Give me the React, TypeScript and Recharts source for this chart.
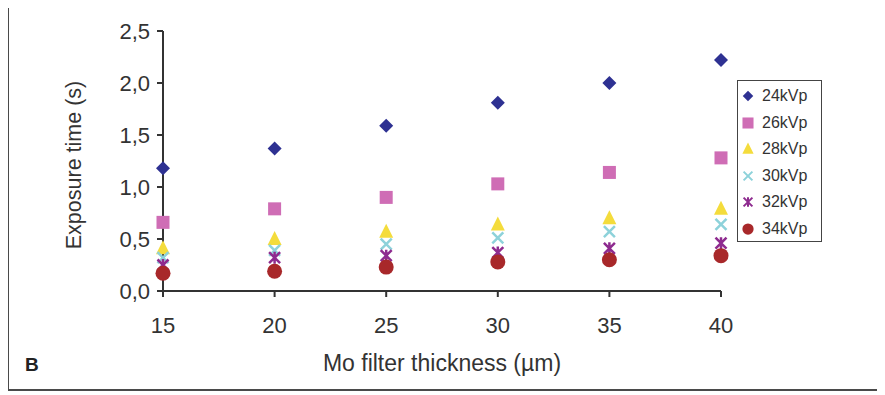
import React from "react";
import { Legend, Scatter, ScatterChart, XAxis, YAxis } from "recharts";

// Mo filter thickness (µm)
const thickness = [15, 20, 25, 30, 35, 40];

// Exposure time (s) per tube voltage
const kv24 = [1.18, 1.37, 1.59, 1.81, 2.0, 2.22];
const kv26 = [0.66, 0.79, 0.9, 1.03, 1.14, 1.28];
const kv28 = [0.41, 0.5, 0.57, 0.64, 0.7, 0.79];
const kv30 = [0.32, 0.39, 0.45, 0.51, 0.57, 0.64];
const kv32 = [0.25, 0.32, 0.34, 0.37, 0.41, 0.46];
const kv34 = [0.17, 0.19, 0.23, 0.28, 0.3, 0.34];

const xTicks = [15, 20, 25, 30, 35, 40];
const yTicks = [0, 0.5, 1, 1.5, 2, 2.5];

const FONT = '"Liberation Sans", Arial, Helvetica, sans-serif';

const toPoints = (vals: number[]) =>
  thickness.map((t, i) => ({ x: t, y: vals[i] }));

// marker shapes (Excel style)
const Diamond = ({ cx, cy, fill }: any) => (
  <polygon
    points={`${cx},${cy - 7} ${cx + 7},${cy} ${cx},${cy + 7} ${cx - 7},${cy}`}
    fill={fill}
  />
);
const Square = ({ cx, cy, fill }: any) => (
  <rect x={cx - 6.5} y={cy - 6.5} width={13} height={13} fill={fill} />
);
const Triangle = ({ cx, cy, fill }: any) => (
  <polygon
    points={`${cx},${cy - 8} ${cx + 7},${cy + 6} ${cx - 7},${cy + 6}`}
    fill={fill}
  />
);
const XMark = ({ cx, cy, fill }: any) => (
  <path
    d={`M${cx - 5.5},${cy - 5.5}L${cx + 5.5},${cy + 5.5}M${cx - 5.5},${cy + 5.5}L${cx + 5.5},${cy - 5.5}`}
    stroke={fill}
    strokeWidth={2.5}
  />
);
const Star = ({ cx, cy, fill }: any) => (
  <path
    d={`M${cx - 5.5},${cy - 5.5}L${cx + 5.5},${cy + 5.5}M${cx - 5.5},${cy + 5.5}L${cx + 5.5},${cy - 5.5}M${cx},${cy - 6}L${cx},${cy + 6}`}
    stroke={fill}
    strokeWidth={2.5}
  />
);
const Dot = ({ cx, cy, fill }: any) => (
  <circle cx={cx} cy={cy} r={7.5} fill={fill} />
);

const series = [
  { name: "24kVp", data: kv24, color: "#2E3192", shape: Diamond },
  { name: "26kVp", data: kv26, color: "#CF6DB5", shape: Square },
  { name: "28kVp", data: kv28, color: "#F4DC3C", shape: Triangle },
  { name: "30kVp", data: kv30, color: "#8DD2DA", shape: XMark },
  { name: "32kVp", data: kv32, color: "#8E2B8F", shape: Star },
  { name: "34kVp", data: kv34, color: "#A8282A", shape: Dot },
];

const legendSizes: Record<string, number> = {
  "24kVp": 0.75,
  "26kVp": 0.85,
  "28kVp": 0.8,
  "30kVp": 0.8,
  "32kVp": 0.8,
  "34kVp": 0.75,
};

const renderLegend = () => (
  <div
    style={{
      width: 85,
      height: 162,
      boxSizing: "border-box",
      border: "1.5px solid #444",
      background: "#fff",
      paddingTop: 2,
      fontFamily: FONT,
    }}
  >
    {series.map((s) => {
      const Shape = s.shape;
      const k = legendSizes[s.name];
      return (
        <div
          key={s.name}
          style={{ height: 26.5, display: "flex", alignItems: "center" }}
        >
          <svg width={24} height={20} style={{ flex: "none" }}>
            <g transform={`translate(10 10) scale(${k})`}>
              <Shape cx={0} cy={0} fill={s.color} />
            </g>
          </svg>
          <span style={{ fontSize: 16, color: "#333" }}>{s.name}</span>
        </div>
      );
    })}
  </div>
);

const renderYLabel = () => (
  <text
    x={65}
    y={161}
    transform="rotate(-90 65 161)"
    textAnchor="middle"
    dominantBaseline="central"
    fontSize={21.5}
    fontFamily={FONT}
    fill="#333"
  >
    Exposure time (s)
  </text>
);

const renderXLabel = () => (
  <text
    x={433}
    y={359}
    textAnchor="middle"
    dominantBaseline="central"
    fontSize={23}
    fontFamily={FONT}
    fill="#333"
  >
    Mo filter thickness (µm)
  </text>
);

export default function App() {
  return (
    <div
      style={{
        position: "relative",
        width: 875,
        height: 389,
        boxSizing: "border-box",
        border: "2px solid #4a4a4a",
        margin: "-6px 0 0 -1px",
        background: "#fff",
        fontFamily: FONT,
      }}
    >
      <ScatterChart
        width={871}
        height={385}
        margin={{ top: 27, right: 159, bottom: 0, left: 0 }}
      >
        <XAxis
          type="number"
          dataKey="x"
          domain={[15, 40]}
          ticks={xTicks}
          height={98}
          tickSize={6}
          tickMargin={20}
          axisLine={{ stroke: "#333", strokeWidth: 2 }}
          tickLine={{ stroke: "#333", strokeWidth: 2 }}
          tick={{ fill: "#333", fontSize: 22, fontFamily: FONT }}
          label={renderXLabel}
        />
        <YAxis
          type="number"
          dataKey="y"
          domain={[0, 2.5]}
          ticks={yTicks}
          width={154}
          tickSize={6}
          tickMargin={7}
          tickFormatter={(v: number) => v.toFixed(1).replace(".", ",")}
          axisLine={{ stroke: "#333", strokeWidth: 2 }}
          tickLine={{ stroke: "#333", strokeWidth: 2 }}
          tick={{ fill: "#333", fontSize: 22, fontFamily: FONT }}
          label={renderYLabel}
        />
        {series.map((s) => (
          <Scatter
            key={s.name}
            name={s.name}
            data={toPoints(s.data)}
            fill={s.color}
            shape={s.shape}
            isAnimationActive={false}
          />
        ))}
        <Legend
          layout="vertical"
          align="center"
          verticalAlign="middle"
          content={renderLegend}
          wrapperStyle={{ left: 728, top: 76, width: 85 }}
        />
      </ScatterChart>
      <div
        style={{
          position: "absolute",
          left: 16,
          top: 351,
          fontSize: 19,
          lineHeight: "19px",
          fontWeight: "bold",
          color: "#222",
        }}
      >
        B
      </div>
    </div>
  );
}
